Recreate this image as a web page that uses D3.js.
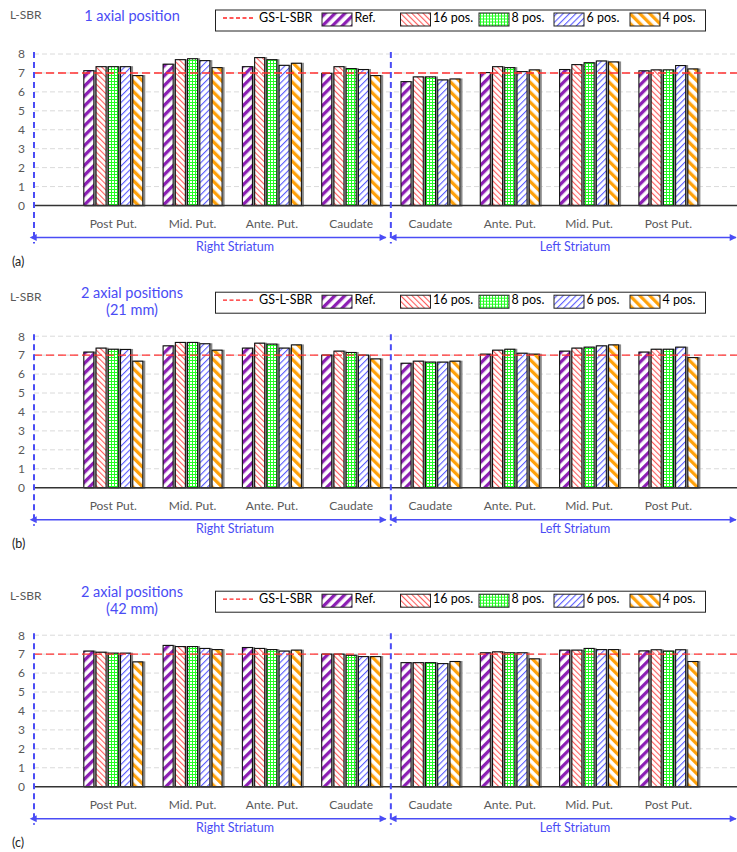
<!DOCTYPE html>
<html>
<head>
<meta charset="utf-8">
<script src="https://cdn.jsdelivr.net/npm/d3@7"></script>
<style>
  body { margin: 0; background: #fff; }
  svg { font-family: Lato, "Open Sans", sans-serif; }
</style>
</head>
<body>
<svg width="737" height="852"></svg>
<script>
// categories, left to right (right striatum then left striatum)
const regions = ["Right Striatum", "Right Striatum", "Right Striatum", "Right Striatum",
                 "Left Striatum", "Left Striatum", "Left Striatum", "Left Striatum"];
const categories = ["Post Put.", "Mid. Put.", "Ante. Put.", "Caudate",
                    "Caudate", "Ante. Put.", "Mid. Put.", "Post Put."];
const seriesNames = ["Ref.", "16 pos.", "8 pos.", "6 pos.", "4 pos."];
const yTicks = [0, 1, 2, 3, 4, 5, 6, 7, 8];
const gsValue = 7;

// values per series (rows) for each category (columns)
const valuesA = [
    [7.12, 7.46, 7.33, 6.98, 6.54, 7.02, 7.18, 7.11],
    [7.33, 7.70, 7.81, 7.33, 6.79, 7.33, 7.44, 7.16],
    [7.33, 7.75, 7.70, 7.23, 6.79, 7.28, 7.54, 7.16],
    [7.33, 7.65, 7.40, 7.18, 6.63, 7.07, 7.63, 7.39],
    [6.86, 7.28, 7.51, 6.86, 6.68, 7.16, 7.58, 7.21]
];
const valuesB = [
    [7.16, 7.49, 7.37, 7.00, 6.57, 7.05, 7.21, 7.16],
    [7.37, 7.67, 7.63, 7.21, 6.68, 7.26, 7.37, 7.31],
    [7.31, 7.67, 7.58, 7.14, 6.63, 7.31, 7.42, 7.31],
    [7.30, 7.60, 7.37, 7.00, 6.63, 7.10, 7.49, 7.42],
    [6.68, 7.26, 7.54, 6.80, 6.68, 7.05, 7.54, 6.87]
];
const valuesC = [
    [7.16, 7.46, 7.35, 7.00, 6.55, 7.07, 7.21, 7.17],
    [7.10, 7.40, 7.30, 7.00, 6.55, 7.12, 7.21, 7.23],
    [7.05, 7.40, 7.24, 6.94, 6.55, 7.07, 7.30, 7.16],
    [7.05, 7.30, 7.16, 6.87, 6.50, 7.07, 7.24, 7.23],
    [6.59, 7.24, 7.21, 6.87, 6.61, 6.75, 7.24, 6.61]
];

const panels = [
    {tag: "(a)", title: ["1 axial position"], zero: 205.5, values: valuesA},
    {tag: "(b)", title: ["2 axial positions", "(21 mm)"], zero: 487.7, values: valuesB},
    {tag: "(c)", title: ["2 axial positions", "(42 mm)"], zero: 786.7, values: valuesC}
];

const svg = d3.select('svg');
const WIDTH = +svg.attr('width');
const BLUE = '#4a4cf5';
const GREY = '#595959';
const axisX = 34;
const step = 79.3;
const plotH = 151.5;

const keys = categories.map((c, i) => regions[i] + '|' + c);
const xScale = d3.scaleBand()
    .domain(keys)
    .range([axisX + step / 2, axisX + step * 8.5]);
const xSub = d3.scaleBand()
    .domain(seriesNames)
    .range([-29.5, 29.5])
    .paddingInner(0.18);

// fill patterns
const defs = svg.append('defs');
let stripe = (id, color, size, w, angle, bg) => {
    const p = defs.append('pattern')
        .attr('id', id)
        .attr('patternUnits', 'userSpaceOnUse')
        .attr('width', size).attr('height', size)
        .attr('patternTransform', 'rotate(' + angle + ')');
    p.append('rect').attr('width', size).attr('height', size).attr('fill', bg || '#fff');
    p.append('rect').attr('width', w).attr('height', size).attr('fill', color);
};
stripe('p0', '#8c1fb4', 7, 3.3, 45);
stripe('p1', '#ff5c5c', 4, 1.1, -45);
stripe('p3', '#5a5cff', 4.5, 1.1, 45);
stripe('p4', '#ffa10a', 7, 3.3, -45);
// green with small white dots
const dots = defs.append('pattern')
    .attr('id', 'p2')
    .attr('patternUnits', 'userSpaceOnUse')
    .attr('width', 3).attr('height', 3);
dots.append('rect').attr('width', 3).attr('height', 3).attr('fill', '#22ff22');
dots.append('rect').attr('x', 1).attr('y', 1).attr('width', 1.5).attr('height', 1.5)
    .attr('fill', '#fff').attr('shape-rendering', 'crispEdges');

const fills = seriesNames.map((s, i) => 'url(#p' + i + ')');

// arrow heads
['start', 'end'].forEach(k => {
    defs.append('marker')
        .attr('id', 'arr-' + k)
        .attr('viewBox', '0 0 10 10')
        .attr('refX', k === 'end' ? 9 : 1).attr('refY', 5)
        .attr('markerWidth', 10).attr('markerHeight', 7)
        .attr('markerUnits', 'userSpaceOnUse')
        .attr('orient', 'auto-start-reverse')
        .append('path')
        .attr('d', 'M0,0 L10,5 L0,10 Z')
        .attr('fill', BLUE);
});

const legendX = [322, 400.5, 479, 554, 630];

let drawPanel = (p) => {
    const g = svg.append('g');
    const top = p.zero - 196;
    const yScale = d3.scaleLinear().domain([0, 8]).range([p.zero, p.zero - plotH]);

    // header
    g.append('text')
        .attr('x', 10).attr('y', top + 6)
        .attr('dominant-baseline', 'middle')
        .attr('font-size', 12).attr('fill', GREY)
        .text('L-SBR');
    const tl = p.title.length;
    p.title.forEach((t, i) => {
        g.append('text')
            .attr('x', 132)
            .attr('y', tl === 1 ? top + 8 : top + 2.5 + i * 17.5)
            .attr('text-anchor', 'middle')
            .attr('dominant-baseline', 'middle')
            .attr('font-size', 14.5).attr('fill', BLUE)
            .text(t);
    });

    // legend
    const lg = g.append('g').attr('transform', 'translate(0,' + top + ')');
    lg.append('rect')
        .attr('x', 215.5).attr('y', 0.5).attr('width', 490).attr('height', 21)
        .attr('fill', '#fff').attr('stroke', '#222').attr('stroke-width', 1);
    lg.append('line')
        .attr('x1', 223).attr('x2', 253).attr('y1', 8.5).attr('y2', 8.5)
        .attr('stroke', '#ff2020').attr('stroke-width', 1.3).attr('stroke-dasharray', '4,2.5');
    lg.append('text')
        .attr('x', 259).attr('y', 9)
        .attr('dominant-baseline', 'middle').attr('font-size', 12.5)
        .text('GS-L-SBR');
    seriesNames.forEach((s, i) => {
        lg.append('rect')
            .attr('x', legendX[i]).attr('y', 3.5).attr('width', 30).attr('height', 13)
            .attr('fill', fills[i]).attr('stroke', '#222').attr('stroke-width', 1);
        lg.append('text')
            .attr('x', legendX[i] + 32.5).attr('y', 9.5)
            .attr('dominant-baseline', 'middle').attr('font-size', 12.5)
            .text(s);
    });

    // gridlines + tick labels
    const yAxis = d3.axisLeft(yScale).tickValues(yTicks).tickSize(0).tickPadding(9);
    const ax = g.append('g')
        .attr('transform', 'translate(' + axisX + ',0)')
        .call(yAxis);
    ax.select('.domain').remove();
    ax.selectAll('text').attr('font-size', 12).attr('fill', GREY).attr('font-family', 'Lato, sans-serif');
    g.selectAll('.grid')
        .data(yTicks.filter(d => d > 0))
        .enter().append('line')
        .attr('x1', axisX).attr('x2', WIDTH)
        .attr('y1', d => yScale(d)).attr('y2', d => yScale(d))
        .attr('stroke', '#dadada').attr('stroke-width', 1).attr('stroke-dasharray', '5,3');

    // bars
    const bars = [];
    p.values.forEach((row, si) => row.forEach((v, ci) => bars.push({s: si, key: keys[ci], v: v})));
    const bx = d => xScale(d.key) + xScale.bandwidth() / 2 + xSub(seriesNames[d.s]);
    g.selectAll('.shadow')
        .data(bars)
        .enter().append('rect')
        .attr('x', d => bx(d) + 1.5)
        .attr('y', d => yScale(d.v) + 0.5)
        .attr('width', xSub.bandwidth())
        .attr('height', d => p.zero - yScale(d.v) - 0.5)
        .attr('fill', 'none').attr('stroke', '#8a8a8a').attr('stroke-width', 2);
    g.selectAll('.bar')
        .data(bars)
        .enter().append('rect')
        .attr('x', d => bx(d))
        .attr('y', d => yScale(d.v))
        .attr('width', xSub.bandwidth())
        .attr('height', d => p.zero - yScale(d.v))
        .attr('fill', d => fills[d.s])
        .attr('stroke', '#111').attr('stroke-width', 1.1);

    // baseline and GS reference line
    g.append('line')
        .attr('x1', axisX).attr('x2', WIDTH)
        .attr('y1', p.zero).attr('y2', p.zero)
        .attr('stroke', '#333').attr('stroke-width', 1.4);
    g.append('line')
        .attr('x1', axisX).attr('x2', WIDTH)
        .attr('y1', yScale(gsValue)).attr('y2', yScale(gsValue))
        .attr('stroke', '#ff3030').attr('stroke-width', 1.4).attr('stroke-dasharray', '8,4');

    // category labels
    g.selectAll('.cat')
        .data(keys)
        .enter().append('text')
        .attr('x', d => xScale(d) + xScale.bandwidth() / 2)
        .attr('y', p.zero + 19)
        .attr('text-anchor', 'middle').attr('dominant-baseline', 'middle')
        .attr('font-size', 12).attr('fill', GREY)
        .text((d, i) => categories[i]);

    // striatum dividers and arrows
    const arrowY = p.zero + 32;
    const midX = xScale(keys[4]);
    [axisX, midX].forEach(x => {
        g.append('line')
            .attr('x1', x).attr('x2', x)
            .attr('y1', yScale(8) - 2).attr('y2', arrowY + 6)
            .attr('stroke', BLUE).attr('stroke-width', 2).attr('stroke-dasharray', '6,4');
    });
    const spans = [[axisX + 2, midX - 5, 235, regions[0]], [midX + 5, WIDTH - 1, 575, regions[4]]];
    spans.forEach(sp => {
        g.append('line')
            .attr('x1', sp[0]).attr('x2', sp[1])
            .attr('y1', arrowY).attr('y2', arrowY)
            .attr('stroke', BLUE).attr('stroke-width', 1.5)
            .attr('marker-start', 'url(#arr-start)')
            .attr('marker-end', 'url(#arr-end)');
        g.append('text')
            .attr('x', sp[2]).attr('y', arrowY + 10)
            .attr('text-anchor', 'middle').attr('dominant-baseline', 'middle')
            .attr('font-size', 12.5).attr('fill', BLUE)
            .text(sp[3]);
    });
    g.append('text')
        .attr('x', 12).attr('y', p.zero + 57)
        .attr('dominant-baseline', 'middle')
        .attr('font-size', 12.5).attr('fill', '#222')
        .text(p.tag);
};

panels.forEach(drawPanel);
</script>
</body>
</html>
